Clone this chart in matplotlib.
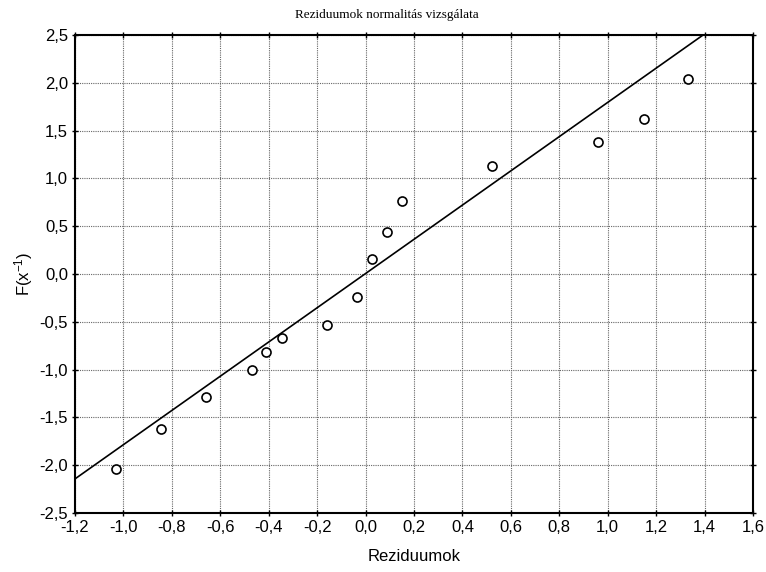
"""
Normal probability plot of residuals (Reziduumok normalitás vizsgálata)
"""
import matplotlib
matplotlib.use('Agg')
import matplotlib.pyplot as plt
import numpy as np

# residuals and their expected normal quantiles
residuals = [-1.031, -0.845, -0.660, -0.471, -0.410, -0.346, -0.161, -0.036,
             0.025, 0.088, 0.151, 0.524, 0.961, 1.148, 1.333]
quantiles = [-2.04, -1.625, -1.29, -1.00, -0.82, -0.67, -0.53, -0.24,
             0.154, 0.436, 0.764, 1.13, 1.384, 1.625, 2.04]

# fitted reference line y = slope * x + intercept
line_slope = 1.79
line_intercept = 0.005

x_ticks = np.round(np.arange(-1.2, 1.61, 0.2), 1)
y_ticks = np.round(np.arange(-2.5, 2.51, 0.5), 1)

plt.rcParams['font.family'] = ['Liberation Sans', 'DejaVu Sans']
plt.rcParams['mathtext.fontset'] = 'custom'
plt.rcParams['mathtext.rm'] = 'Liberation Sans'
plt.rcParams['mathtext.it'] = 'Liberation Sans'


def fmt(v):
    return '{0:.1f}'.format(v).replace('.', ',').replace('-0,0', '0,0')


fig = plt.figure(figsize=(7.66, 5.72), dpi=100)
ax = fig.add_axes([0.0979, 0.1031, 0.8851, 0.8357])

xx = np.array([-1.2, 1.6])
ax.plot(xx, line_slope * xx + line_intercept, color='black', lw=1.2, zorder=3)
ax.plot(residuals, quantiles, 'o', markerfacecolor='white', markeredgecolor='black',
        markersize=6.5, markeredgewidth=1.2, zorder=4)

ax.set_xlim(-1.2, 1.6)
ax.set_ylim(-2.5, 2.5)
ax.set_xticks(x_ticks)
ax.set_yticks(y_ticks)
ax.set_xticklabels([fmt(v) for v in x_ticks], fontsize=12)
ax.set_yticklabels([fmt(v) for v in y_ticks], fontsize=12)

ax.grid(True, linestyle=(0, (1, 1)), color='#666666', linewidth=0.8)
ax.set_axisbelow(True)
for s in ax.spines.values():
    s.set_linewidth(1.5)

ax.tick_params(axis='both', which='major', direction='inout', length=4, width=1, pad=3,
               top=True, right=True)

ax.set_xlabel('Reziduumok', fontsize=12, labelpad=10)
ax.set_ylabel('F(x$^{\\mathrm{-1}}$)', fontsize=12, labelpad=3)

fig.text(0.505, 0.974, 'Reziduumok normalitás vizsgálata', ha='center', va='center',
         fontsize=9.5, family='Liberation Serif')

plt.savefig('out.png', dpi=100)
